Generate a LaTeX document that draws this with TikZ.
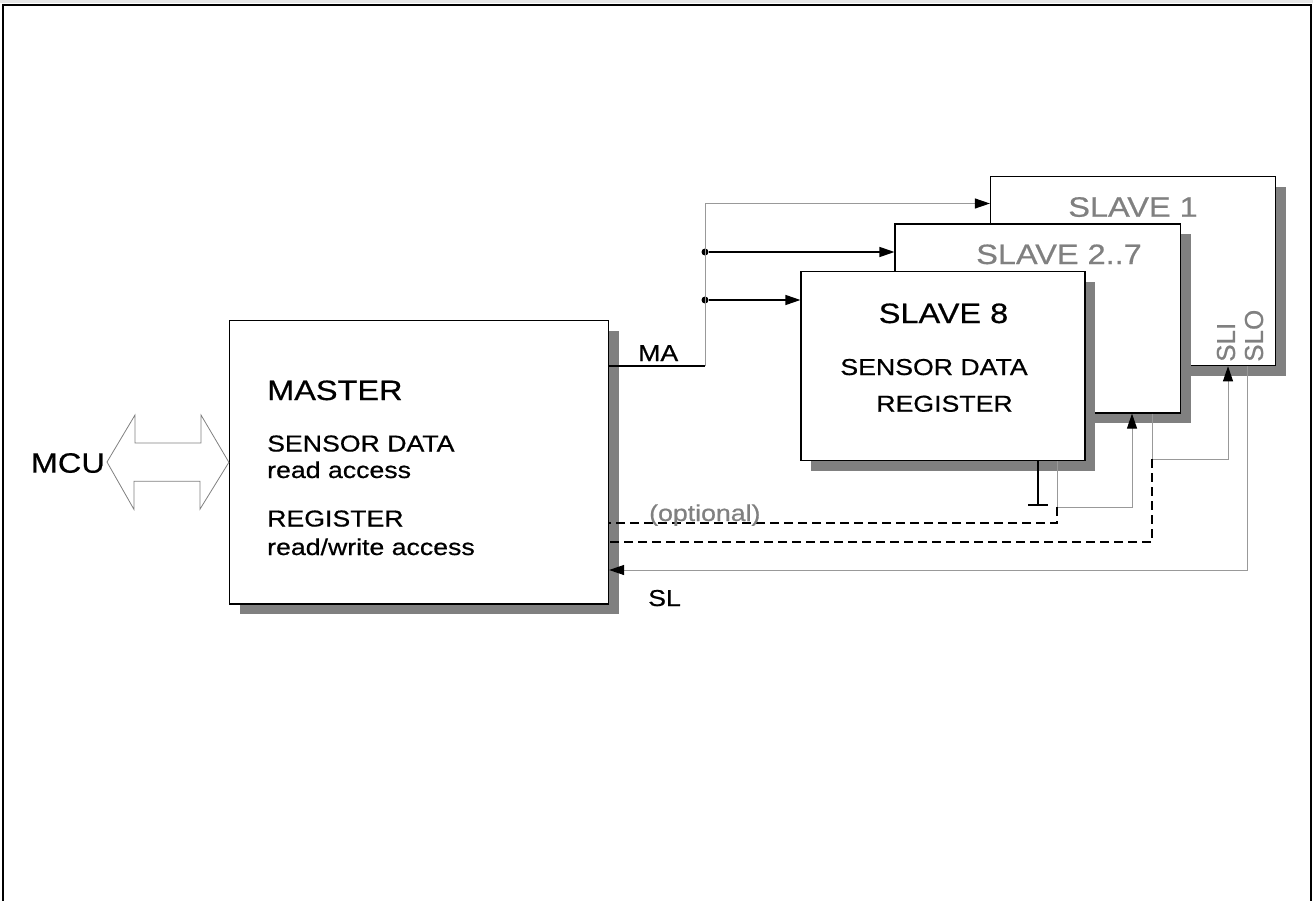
\documentclass[tikz,border=0pt]{standalone}
\usepackage{fontspec}
\setmainfont{Liberation Sans}[FakeStretch=1.16,FakeBold=0.6]
\newfontfamily\plainsans{Liberation Sans}[FakeBold=0.6]
\usepackage{tikz}
\usetikzlibrary{arrows.meta,shadows,calc}
\definecolor{shadegray}{HTML}{808080}
\definecolor{wiregray}{HTML}{999999}
\definecolor{labelgray}{HTML}{808080}
\definecolor{stripgray}{HTML}{E6E6E6}

\begin{document}
\begin{tikzpicture}[x=1pt,y=-1pt,
  box/.style={draw=black,fill=white,line width=1.2pt,inner sep=0pt,
              drop shadow={shadow xshift=10pt,shadow yshift=-10pt,opacity=1,fill=shadegray}},
  big/.style={inner sep=0pt,font=\fontsize{28}{30}\selectfont},
  small/.style={inner sep=0pt,font=\fontsize{23}{25}\selectfont},
  pin/.style={inner sep=0pt,text=labelgray,rotate=90,anchor=west,
              font=\plainsans\fontsize{26}{28}\selectfont},
  dot/.style={circle,fill=black,minimum size=7pt,inner sep=0pt},
  sig/.style={-{Triangle[length=15pt,width=10pt,color=black]},line width=1.2pt},
  wsig/.style={-{Triangle[length=15pt,width=10pt,color=black]},draw=wiregray,line width=1pt},
  wire/.style={draw=wiregray,line width=1pt},
  opt/.style={dash pattern=on 9pt off 5pt,line width=1.1pt},
  bus/.style={draw=shadegray,fill=white,line width=0.8pt}
]
\useasboundingbox (0,0) rectangle (1313,901);
\fill[stripgray] (0,0) rectangle (1313,3.5);
\draw[line width=2pt] (3,901) -- (3,5) -- (1311,5) -- (1311,901);

% slaves, back to front
\node[box,minimum width=285pt,minimum height=189pt] (sl1) at (1133,271.2) {};
\node[big,anchor=base,text=labelgray] (t1) at (1133,216.7) {SLAVE 1};
\node[box,minimum width=285.5pt,minimum height=189pt] (sl27) at (1037.8,318.5) {};
\node[big,anchor=base,text=labelgray] (t27) at (1059,264) {SLAVE 2..7};
\node[box,minimum width=284pt,minimum height=189pt] (sl8) at (943,366.3) {};
\node[big,anchor=base] (t8) at (943.5,323) {SLAVE 8};
\node[small,anchor=base] (s8a) at (934,375) {SENSOR DATA};
\node[small,anchor=base] (s8b) at (944.5,411.7) {REGISTER};
\node[pin] (sli) at (1226,362) {SLI};
\node[pin] (slo) at (1254,362) {SLO};

% master
\node[box,minimum width=379pt,minimum height=283.5pt] (master) at (419,462.3) {};
\node[big,anchor=base west] (mt) at (267,400) {MASTER};
\node[small,anchor=base west] (m1) at (267,451.5) {SENSOR DATA};
\node[small,anchor=base west] (m2) at (267,478) {read access};
\node[small,anchor=base west] (m3) at (267,526.5) {REGISTER};
\node[small,anchor=base west] (m4) at (267,555) {read/write access};

% host bus
\node[big,anchor=east] (mcu) at (105,463) {MCU};
\draw[bus] (mcu.east) ++(2,-1) -- ++(28,-47) -- ++(0,28) -- ++(66,0) -- ++(0,-28)
  -- (master.west) -- ++(-29,47) -- ++(0,-28) -- ++(-66,0) -- ++(0,28) -- cycle;

% MA fan-out
\coordinate (ma) at (705,366);
\coordinate (mtop) at (705,203.5);
\node[dot] (j1) at (705,252) {};
\node[dot] (j2) at (705,300) {};
\draw[line width=1.2pt] (master.east |- ma) -- (ma);
\draw[wire] (ma) -- (mtop);
\draw[wsig] (mtop) -- (mtop -| sl1.west);
\draw[sig] (j1) -- (j1 -| sl27.west);
\draw[sig] (j2) -- (j2 -| sl8.west);
\node[small,anchor=base west] (lma) at (638,361) {MA};

% SL daisy chain
\coordinate (in8) at (1038,505);
\draw[line width=1.2pt] (sl8.south -| in8) -- (in8);
\draw[line width=1.2pt] ([xshift=-10pt]in8) -- ([xshift=10pt]in8);
\coordinate (o8) at (1057,507);
\coordinate (i27) at (1132,507);
\coordinate (d8) at (1057,523);
\draw[wsig] (sl8.south -| o8) -- (o8) -- (i27) -- (sl27.south -| i27);
\draw[opt] (o8) -- (d8) -- (master.east |- d8);
\coordinate (o27) at (1152,459);
\coordinate (i1) at (1228,459);
\coordinate (d27) at (1152,542);
\draw[wsig] (sl27.south -| o27) -- (o27) -- (i1) -- (sl1.south -| i1);
\draw[opt] (o27) -- (d27) -- (master.east |- d27);
\coordinate (o1) at (1247,570);
\draw[wsig] (sl1.south -| o1) -- (o1) -- (master.east |- o1);
\node[small,anchor=base west,text=labelgray] (lopt) at (649,521) {(optional)};
\node[small,anchor=base west] (lsl) at (648,606) {SL};
\end{tikzpicture}
\end{document}
